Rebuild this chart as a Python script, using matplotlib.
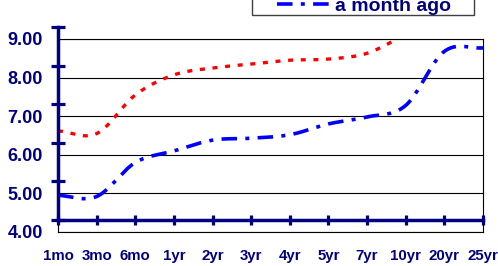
import numpy as np
import matplotlib
matplotlib.use('Agg')
import matplotlib.pyplot as plt
from matplotlib.patches import Rectangle

plt.rcParams['font.family'] = ['Liberation Sans', 'DejaVu Sans']

# data
maturities = ['1mo', '3mo', '6mo', '1yr', '2yr', '3yr', '4yr', '5yr', '7yr', '10yr', '20yr', '25yr']
now_yields = [6.62, 6.55, 7.55, 8.07, 8.25, 8.35, 8.45, 8.48, 8.63, 9.10, 9.40, 9.35]
month_ago = [4.95, 4.92, 5.80, 6.10, 6.38, 6.43, 6.52, 6.80, 6.98, 7.28, 8.68, 8.77]
yticks = [4, 5, 6, 7, 8, 9]

navy = '#000080'


def smooth(y, n=20):
    # catmull-rom through the points (excel style smoothed line)
    y = np.asarray(y, float)
    p = np.concatenate([[2 * y[0] - y[1]], y, [2 * y[-1] - y[-2]]])
    xs, ys = [], []
    for i in range(len(y) - 1):
        p0, p1, p2, p3 = p[i], p[i + 1], p[i + 2], p[i + 3]
        t = np.linspace(0, 1, n, endpoint=False)
        v = 0.5 * (2 * p1 + (-p0 + p2) * t + (2 * p0 - 5 * p1 + 4 * p2 - p3) * t ** 2
                   + (-p0 + 3 * p1 - 3 * p2 + p3) * t ** 3)
        xs.append(i + t)
        ys.append(v)
    xs.append([len(y) - 1])
    ys.append([y[-1]])
    return np.concatenate(xs), np.concatenate(ys)


fig = plt.figure(figsize=(4.98, 2.66), dpi=100)
W, H = 498, 266
l, r, b, t = 58 / W, 483 / W, 1 - 232 / H, 1 - 39 / H
ax = fig.add_axes([l, b, r - l, t - b])
shift = 12 / H
ax2 = fig.add_axes([l, b + shift, r - l, t - b], facecolor='none')

x = np.arange(len(maturities))
sx, sy = smooth(now_yields)
ax.plot(sx, sy, color='#ff0000', lw=2.4, linestyle=(0, (1.5, 2.3)), dash_capstyle='butt')
sx, sy = smooth(month_ago)
blue, = ax.plot(sx, sy, color='#0000ff', lw=2.6, linestyle=(0, (4.3, 2.3, 1.1, 2.3)),
                dash_capstyle='butt', label='a month ago')

ax.set_xlim(0, len(maturities) - 1)
ax.set_ylim(4, 9)
ax.set_yticks(yticks)
ax.set_yticklabels(['%.2f' % v for v in yticks], fontsize=13, fontweight='bold', color=navy)
ax.set_xticks(x)
ax.set_xticklabels(maturities, fontsize=10.8, fontweight='bold', color=navy)
ax.tick_params(axis='y', length=0, pad=11)
ax.tick_params(axis='x', length=0, pad=12)
ax.grid(axis='y', color='black', lw=0.8)
for s in ax.spines.values():
    s.set_color('black')
    s.set_linewidth(0.8)

# offset axis lines with crossing ticks
ax2.set_xlim(ax.get_xlim())
ax2.set_ylim(ax.get_ylim())
ax2.set_xticks(x)
ax2.set_yticks(yticks)
ax2.set_xticklabels([])
ax2.set_yticklabels([])
for s in ['top', 'right']:
    ax2.spines[s].set_visible(False)
for s in ['left', 'bottom']:
    ax2.spines[s].set_color(navy)
    ax2.spines[s].set_linewidth(2.5)
ax2.tick_params(axis='y', direction='inout', length=10, width=2.3, color=navy)
ax2.tick_params(axis='x', direction='inout', length=7, width=2.3, color=navy)

# legend, mostly above the top edge
leg = fig.legend(handles=[blue], loc='center left', bbox_to_anchor=(277 / W, 1 - 6 / H),
                 frameon=False, borderaxespad=0, borderpad=0, handlelength=2.85,
                 prop={'weight': 'bold', 'size': 14}, labelcolor=navy, handletextpad=0.15)
fig.add_artist(Rectangle((252 / W, 1 - 15 / H), (474 - 252) / W, 0.2, transform=fig.transFigure,
                         fill=False, edgecolor='#404040', lw=1.0, clip_on=False))

fig.savefig('out.png', dpi=100)
